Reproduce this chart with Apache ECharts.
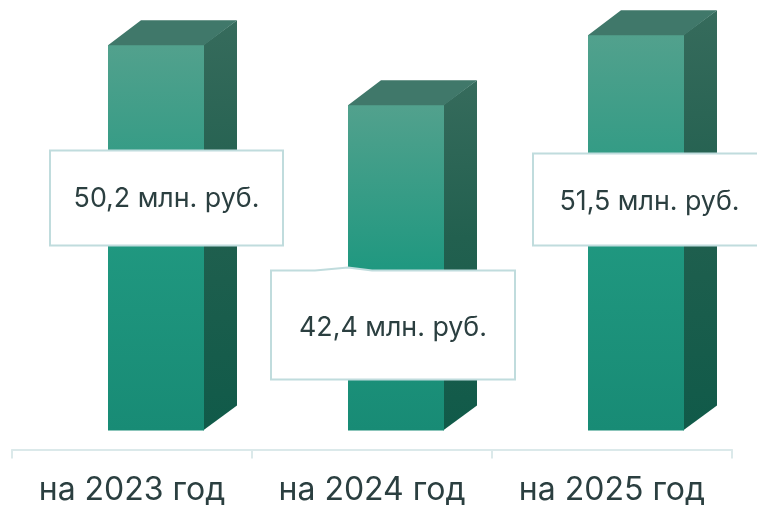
<!DOCTYPE html>
<html><head><meta charset="utf-8">
<style>html,body{margin:0;padding:0;background:#fff;overflow:hidden}#c{width:757px;height:505px}</style>
<script src="https://cdn.jsdelivr.net/npm/echarts@6/dist/echarts.min.js"></script>
</head><body><div id="c"></div>
<script>
const categories = ['на 2023 год', 'на 2024 год', 'на 2025 год'];
const values = [50.2, 42.4, 51.5];
const unit = ' млн. руб.';

const FONT = 'Inter, "Noto Sans", sans-serif';
const INK = '#2b3f40';
const BOX_LINE = '#c0dcdd';
// annotation box placement relative to each column's band centre and baseline
const boxLayout = [
  {dx: -82, w: 233, up: 280, h: 95, notch: false, textUp: 231.5},
  {dx: -101, w: 244, up: 160, h: 109, notch: true, textUp: 102.5},
  {dx: -79, w: 233, up: 277, h: 92, notch: false, textUp: 228.5}
];
const FRONT_L = -24, FRONT_W = 96, DEPTH_X = 33, DEPTH_Y = 25;

function grad(stops){
  return new echarts.graphic.LinearGradient(0,0,0,1,stops.map((c,i)=>({offset:c[0],color:c[1]})));
}
function renderItem(params, api){
  const i = api.value(0);
  const top = api.coord([i, api.value(1)]);
  const base = api.coord([i, 0]);
  const l = top[0] + FRONT_L, r = l + FRONT_W, t = top[1], b = base[1];
  const dx = DEPTH_X, dy = DEPTH_Y;
  const L = boxLayout[i];
  const bx = top[0] + L.dx, by = b - L.up;
  const pts = L.notch
    ? [[bx,by],[bx+44,by],[bx+77,by-3],[bx+101,by],[bx+L.w,by],[bx+L.w,by+L.h],[bx,by+L.h]]
    : [[bx,by],[bx+L.w,by],[bx+L.w,by+L.h],[bx,by+L.h]];
  const txt = values[i].toFixed(1).replace('.',',') + unit;
  return {type:'group', children:[
    {type:'polygon', shape:{points:[[r-1,t],[r+dx,t-dy],[r+dx,b-dy],[r-1,b]]},
     style:{fill:grad([[0,'#366b5c'],[0.45,'#22604f'],[1,'#105a49']])}},
    {type:'polygon', shape:{points:[[l,t+1],[l,t],[l+dx,t-dy],[r+dx,t-dy],[r,t],[r,t+1]]},
     style:{fill:'#40786a'}},
    {type:'rect', shape:{x:l,y:t,width:FRONT_W,height:b-t},
     style:{fill:grad([[0,'#52a18d'],[0.5,'#209880'],[1,'#188b75']])}},
    {type:'polygon', shape:{points:pts},
     style:{fill:'#fff',stroke:BOX_LINE,lineWidth:2}},
    {type:'text', style:{x:bx+L.w/2, y:b-L.textUp, text:txt, fill:INK, font:'26.8px '+FONT, align:'center', verticalAlign:'middle'}}
  ]};
}
const chart = echarts.init(document.getElementById('c'), null, {renderer:'canvas'});
chart.setOption({
  animation:false,
  backgroundColor:'#fff',
  grid:{left:12, right:25, top:8.5, bottom:74.5, containLabel:false, outerBoundsMode:'none'},
  xAxis:{type:'category', data:categories, offset:19,
    axisLine:{onZero:false,lineStyle:{color:'#dbe9ea',width:2}},
    axisTick:{show:true,alignWithLabel:false,length:9,lineStyle:{color:'#dbe9ea',width:2}},
    axisLabel:{color:INK,fontFamily:FONT,fontSize:32,margin:25,interval:0}},
  yAxis:{type:'value',min:0,max:55,show:false,splitLine:{show:false}},
  series:[{type:'custom',clip:false,renderItem,
    data:values.map((v,i)=>[i,v]),encode:{x:0,y:1}}]
});
</script></body></html>
